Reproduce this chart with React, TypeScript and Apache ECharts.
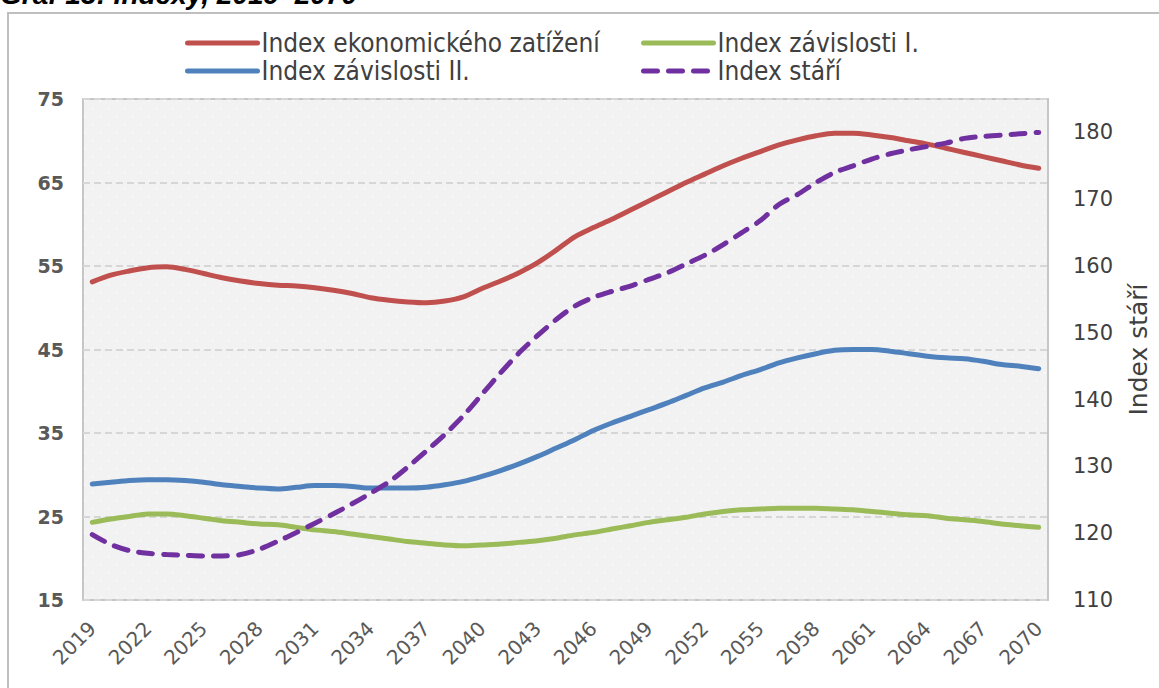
import React, { useEffect, useRef } from "react";
import * as echarts from "echarts";

const years = [
  2019, 2020, 2021, 2022, 2023, 2024, 2025, 2026, 2027, 2028, 2029, 2030, 2031,
  2032, 2033, 2034, 2035, 2036, 2037, 2038, 2039, 2040, 2041, 2042, 2043, 2044,
  2045, 2046, 2047, 2048, 2049, 2050, 2051, 2052, 2053, 2054, 2055, 2056, 2057,
  2058, 2059, 2060, 2061, 2062, 2063, 2064, 2065, 2066, 2067, 2068, 2069, 2070,
].map(String);

const ekonomZatizeni = [
  53.1, 53.9, 54.4, 54.8, 54.9, 54.6, 54.1, 53.6, 53.2, 52.9, 52.7, 52.6, 52.4,
  52.1, 51.7, 51.2, 50.9, 50.7, 50.6, 50.8, 51.3, 52.3, 53.2, 54.2, 55.4, 56.9,
  58.5, 59.6, 60.6, 61.7, 62.8, 63.9, 65.0, 66.0, 67.0, 67.9, 68.7, 69.5, 70.1,
  70.6, 70.9, 70.9, 70.7, 70.4, 70.0, 69.6, 69.1, 68.6, 68.1, 67.6, 67.1, 66.7,
];

const zavislostI = [
  24.3, 24.7, 25.0, 25.3, 25.3, 25.1, 24.8, 24.5, 24.3, 24.1, 24.0, 23.7, 23.4,
  23.2, 22.9, 22.6, 22.3, 22.0, 21.8, 21.6, 21.5, 21.6, 21.7, 21.9, 22.1, 22.4,
  22.8, 23.1, 23.5, 23.9, 24.3, 24.6, 24.9, 25.3, 25.6, 25.8, 25.9, 26.0, 26.0,
  26.0, 25.9, 25.8, 25.6, 25.4, 25.2, 25.1, 24.8, 24.6, 24.4, 24.1, 23.9, 23.7,
];

const zavislostII = [
  28.9, 29.1, 29.3, 29.4, 29.4, 29.3, 29.1, 28.8, 28.6, 28.4, 28.3, 28.5, 28.7,
  28.7, 28.6, 28.4, 28.4, 28.4, 28.5, 28.8, 29.2, 29.8, 30.5, 31.3, 32.2, 33.2,
  34.2, 35.3, 36.2, 37.0, 37.8, 38.6, 39.5, 40.4, 41.1, 41.9, 42.6, 43.4, 44.0,
  44.5, 44.9, 45.0, 45.0, 44.8, 44.5, 44.2, 44.0, 43.9, 43.6, 43.2, 43.0, 42.7,
];

const indexStari = [
  119.8, 118.3, 117.4, 117.0, 116.8, 116.7, 116.6, 116.6, 116.8, 117.6, 118.8,
  120.1, 121.5, 122.9, 124.4, 126.0, 127.7, 129.9, 132.3, 134.8, 137.6, 140.8,
  144.0, 147.0, 149.6, 152.0, 154.0, 155.3, 156.2, 157.0, 158.0, 159.0, 160.3,
  161.6, 163.2, 165.0, 166.8, 169.2, 170.7, 172.5, 174.0, 175.0, 176.0, 176.8,
  177.4, 177.9, 178.4, 179.1, 179.4, 179.6, 179.8, 180.0,
];

const leftTicks = [15, 25, 35, 45, 55, 65, 75];

const names = [
  "Index ekonomického zatížení",
  "Index závislosti I.",
  "Index závislosti II.",
  "Index stáří",
];

function makeDots(): HTMLCanvasElement {
  const c = document.createElement("canvas");
  c.width = 16;
  c.height = 16;
  const ctx = c.getContext("2d")!;
  ctx.fillStyle = "#f2f2f2";
  ctx.fillRect(0, 0, 16, 16);
  ctx.fillStyle = "#fbfbfb";
  ctx.fillRect(4, 4, 1.5, 1.5);
  ctx.fillRect(12, 12, 1.5, 1.5);
  return c;
}

export default function App() {
  const ref = useRef<HTMLDivElement>(null);
  useEffect(() => {
    if (!ref.current) return;
    const chart = echarts.init(ref.current, null, { renderer: "svg" });
    const legendFont = {
      fontFamily: "DejaVu Sans Condensed",
      fontSize: 26,
      color: "#404040",
    };
    const mkLegend = (name: string, left: number, top: number) => ({
      show: true,
      data: [name],
      left,
      top,
      itemWidth: 70,
      itemHeight: 2,
      itemGap: 0,
      padding: 0,
      selectedMode: false,
      lineStyle: { width: 5, cap: "round" },
      textStyle: { ...legendFont, padding: [0, 0, 0, -1] },
    });
    chart.setOption({
      animation: false,
      backgroundColor: "#ffffff",
      graphic: [
        {
          type: "rect",
          shape: { x: 8, y: 13, width: 1300, height: 800 },
          style: { fill: "none", stroke: "#bfbfbf", lineWidth: 2 },
          z: -1,
        },
        {
          type: "text",
          x: 0,
          y: -20,
          style: {
            text: "Graf 13: Indexy, 2019–2070",
            font: "italic bold 28px 'Liberation Sans'",
            fill: "#000000",
          },
        },
      ],
      legend: [
        mkLegend(names[0], 185, 30),
        mkLegend(names[1], 641, 30),
        mkLegend(names[2], 185, 58),
        mkLegend(names[3], 641, 58),
      ],
      grid: {
        left: 83,
        top: 99,
        width: 967,
        height: 501,
        show: true,
        backgroundColor: { image: makeDots(), repeat: "repeat" },
        borderColor: "#c6c6c6",
        borderWidth: 2,
      },
      xAxis: {
        type: "category",
        data: years,
        boundaryGap: true,
        axisLine: { show: false },
        axisTick: { show: false },
        axisLabel: {
          interval: 2,
          rotate: 45,
          margin: 25,
          fontFamily: "DejaVu Sans",
          fontSize: 20,
          color: "#595959",
        },
      },
      yAxis: [
        {
          type: "value",
          min: 15,
          max: 75,
          axisLine: { show: false },
          axisTick: { show: false, customValues: leftTicks },
          axisLabel: {
            customValues: leftTicks,
            fontFamily: "DejaVu Sans",
            fontWeight: "bold",
            fontSize: 19,
            color: "#595959",
            margin: 19,
          },
          splitLine: {
            show: true,
            lineStyle: { color: "#d6d6d6", width: 2, type: [7, 4] },
          },
        },
        {
          type: "value",
          min: 110,
          max: 185,
          interval: 10,
          position: "right",
          name: "Index stáří",
          nameLocation: "middle",
          nameRotate: 90,
          nameGap: 78,
          nameTextStyle: {
            fontFamily: "DejaVu Sans",
            fontSize: 25,
            color: "#404040",
          },
          axisLine: { show: false },
          axisTick: { show: false },
          axisLabel: {
            showMaxLabel: false,
            fontFamily: "DejaVu Sans",
            fontSize: 21,
            color: "#404040",
            margin: 25,
          },
          splitLine: { show: false },
        },
      ],
      series: [
        {
          name: names[0],
          type: "line",
          data: ekonomZatizeni,
          smooth: 0.3,
          symbol: "none",
          color: "#c0504d",
          lineStyle: { width: 5, color: "#c0504d", cap: "round" },
        },
        {
          name: names[1],
          type: "line",
          data: zavislostI,
          smooth: 0.3,
          symbol: "none",
          color: "#9bbb59",
          lineStyle: { width: 5, color: "#9bbb59", cap: "round" },
        },
        {
          name: names[2],
          type: "line",
          data: zavislostII,
          smooth: 0.3,
          symbol: "none",
          color: "#4f81bd",
          lineStyle: { width: 5, color: "#4f81bd", cap: "round" },
        },
        {
          name: names[3],
          type: "line",
          yAxisIndex: 1,
          data: indexStari,
          smooth: 0.3,
          symbol: "none",
          color: "#7030a0",
          lineStyle: { width: 5, color: "#7030a0", type: [14, 11], cap: "round" },
        },
      ],
    });
    return () => chart.dispose();
  }, []);
  return (
    <div
      ref={ref}
      style={{ position: "absolute", left: 0, top: 0, width: 1159, height: 688 }}
    />
  );
}
